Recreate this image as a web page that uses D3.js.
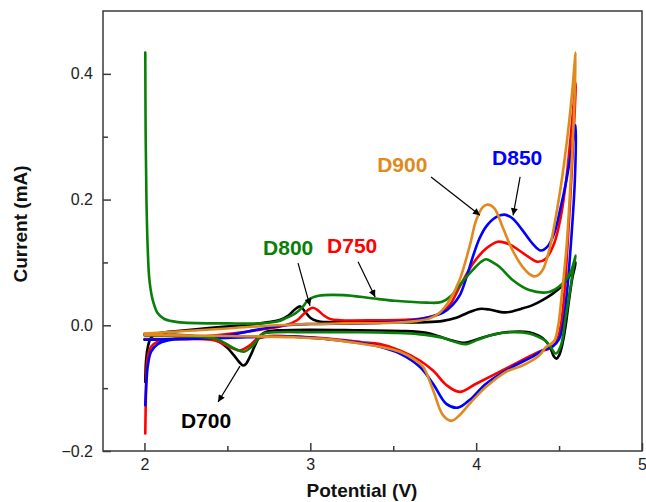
<!DOCTYPE html>
<html>
<head>
<meta charset="utf-8">
<script src="https://cdn.jsdelivr.net/npm/d3@7/dist/d3.min.js"></script>
<style>
  html, body { margin: 0; padding: 0; background: #fff; }
  svg { display: block; font-family: "Liberation Sans", Arial, Helvetica, sans-serif; }
</style>
</head>
<body>
<svg id="chart" width="646" height="502"></svg>
<script>
// Cyclic voltammograms: [potential (V), current (mA)], anodic sweep 2.0 -> 4.6 V then cathodic back to 2.0 V
const d700 = [
  [2.005,-0.09],[2.01,-0.055],[2.02,-0.035],[2.035,-0.022],[2.06,-0.015],[2.1,-0.012],[2.2,-0.009],[2.44,-0.003],
  [2.6,0.0],[2.75,0.005],[2.82,0.009],[2.87,0.016],[2.91,0.026],[2.94,0.03],[2.97,0.021],[3.0,0.012],[3.04,0.007],
  [3.1,0.005],[3.4,0.005],[3.7,0.005],[3.8,0.007],[3.88,0.012],[3.95,0.02],[4.02,0.026],[4.08,0.025],[4.15,0.021],
  [4.2,0.021],[4.27,0.026],[4.34,0.032],[4.4,0.04],[4.46,0.05],[4.52,0.063],[4.56,0.077],[4.6,0.1],
  [4.58,0.075],[4.56,0.04],[4.54,0.0],[4.52,-0.03],[4.5,-0.048],[4.485,-0.053],[4.47,-0.05],[4.45,-0.038],
  [4.42,-0.025],[4.38,-0.017],[4.32,-0.011],[4.18,-0.011],[4.1,-0.015],[4.02,-0.021],[3.93,-0.028],[3.85,-0.024],
  [3.78,-0.018],[3.7,-0.012],[3.55,-0.009],[3.3,-0.008],[3.0,-0.007],[2.8,-0.008],[2.74,-0.01],[2.7,-0.016],
  [2.67,-0.03],[2.64,-0.048],[2.61,-0.062],[2.595,-0.064],[2.57,-0.058],[2.54,-0.048],[2.5,-0.036],[2.45,-0.026],
  [2.4,-0.021],[2.3,-0.017],[2.15,-0.015],[2.0,-0.014]
];
const d750 = [
  [2.005,-0.172],[2.008,-0.12],[2.012,-0.075],[2.02,-0.05],[2.04,-0.034],[2.08,-0.026],[2.15,-0.022],[2.3,-0.019],
  [2.5,-0.014],[2.7,-0.007],[2.85,0.0],[2.92,0.008],[2.96,0.018],[2.99,0.025],[3.015,0.028],[3.04,0.025],
  [3.08,0.016],[3.12,0.01],[3.18,0.008],[3.4,0.008],[3.6,0.009],[3.7,0.012],[3.78,0.019],[3.84,0.032],
  [3.9,0.061],[3.98,0.098],[4.06,0.122],[4.13,0.133],[4.2,0.129],[4.26,0.119],[4.32,0.108],[4.37,0.101],
  [4.42,0.106],[4.47,0.13],[4.51,0.172],[4.54,0.225],[4.57,0.3],[4.6,0.385],
  [4.585,0.29],[4.565,0.19],[4.545,0.1],[4.525,0.03],[4.505,-0.008],[4.48,-0.028],[4.44,-0.037],[4.38,-0.042],
  [4.26,-0.058],[4.12,-0.077],[4.0,-0.093],[3.9,-0.106],[3.82,-0.095],[3.74,-0.072],[3.66,-0.056],[3.54,-0.04],
  [3.42,-0.03],[3.31,-0.027],[3.11,-0.021],[2.91,-0.018],[2.75,-0.017],[2.7,-0.02],[2.676,-0.022],[2.635,-0.032],
  [2.575,-0.04],[2.535,-0.037],[2.455,-0.027],[2.4,-0.023],[2.2,-0.022],[2.0,-0.022]
];
const d850 = [
  [2.005,-0.127],[2.012,-0.09],[2.02,-0.065],[2.04,-0.042],[2.08,-0.03],[2.14,-0.024],[2.3,-0.021],[2.5,-0.016],
  [2.7,-0.006],[2.85,0.0],[3.0,0.002],[3.3,0.003],[3.5,0.005],[3.62,0.008],[3.72,0.013],[3.8,0.02],[3.86,0.033],
  [3.9,0.047],[3.94,0.075],[3.98,0.109],[4.02,0.138],[4.06,0.157],[4.12,0.172],[4.17,0.176],[4.22,0.17],
  [4.28,0.151],[4.34,0.13],[4.39,0.119],[4.43,0.125],[4.47,0.146],[4.51,0.188],[4.54,0.225],[4.57,0.27],[4.6,0.318],
  [4.595,0.23],[4.57,0.125],[4.545,0.045],[4.525,0.003],[4.5,-0.022],[4.46,-0.034],[4.4,-0.04],[4.34,-0.05],
  [4.22,-0.066],[4.06,-0.093],[3.96,-0.119],[3.89,-0.131],[3.82,-0.125],[3.74,-0.093],[3.66,-0.066],[3.54,-0.045],
  [3.42,-0.034],[3.3,-0.028],[3.1,-0.022],[2.9,-0.018],[2.5,-0.02],[2.2,-0.022],[2.0,-0.023]
];
const d800 = [
  [2.005,0.434],[2.007,0.31],[2.012,0.2],[2.02,0.12],[2.03,0.072],[2.05,0.04],[2.08,0.019],[2.12,0.01],
  [2.2,0.005],[2.5,0.003],[2.7,0.003],[2.8,0.006],[2.85,0.011],[2.91,0.019],[2.95,0.028],[2.99,0.041],
  [3.05,0.047],[3.2,0.048],[3.37,0.043],[3.51,0.039],[3.7,0.036],[3.79,0.037],[3.85,0.047],[3.9,0.064],
  [3.98,0.088],[4.03,0.101],[4.06,0.105],[4.1,0.1],[4.14,0.093],[4.22,0.072],[4.32,0.056],[4.44,0.053],
  [4.52,0.066],[4.57,0.085],[4.6,0.111],
  [4.585,0.09],[4.57,0.062],[4.54,0.013],[4.51,-0.033],[4.48,-0.045],[4.45,-0.035],[4.42,-0.025],[4.38,-0.019],
  [4.32,-0.013],[4.2,-0.011],[4.1,-0.015],[4.0,-0.024],[3.94,-0.03],[3.88,-0.027],[3.8,-0.02],[3.65,-0.014],
  [3.5,-0.012],[3.3,-0.011],[3.0,-0.011],[2.8,-0.011],[2.72,-0.013],[2.7,-0.016],[2.655,-0.032],[2.6,-0.042],
  [2.55,-0.038],[2.455,-0.024],[2.4,-0.02],[2.2,-0.017],[2.0,-0.016]
];
const d900 = [
  [2.0,-0.013],[2.2,-0.01],[2.5,-0.005],[2.8,0.0],[3.0,0.002],[3.2,0.003],[3.5,0.004],[3.65,0.007],[3.72,0.011],
  [3.78,0.02],[3.84,0.04],[3.9,0.072],[3.96,0.125],[4.0,0.167],[4.04,0.188],[4.07,0.192],[4.11,0.186],
  [4.16,0.156],[4.22,0.119],[4.28,0.093],[4.33,0.08],[4.36,0.078],[4.4,0.0875],[4.44,0.119],[4.48,0.172],
  [4.51,0.22],[4.53,0.257],[4.555,0.31],[4.58,0.374],[4.6,0.434],
  [4.59,0.337],[4.57,0.231],[4.545,0.125],[4.515,0.045],[4.495,0.0],[4.47,-0.025],[4.42,-0.035],[4.38,-0.048],
  [4.28,-0.064],[4.18,-0.074],[4.06,-0.098],[3.96,-0.125],[3.9,-0.143],[3.85,-0.152],[3.8,-0.143],[3.74,-0.103],
  [3.68,-0.066],[3.62,-0.053],[3.54,-0.042],[3.42,-0.034],[3.3,-0.029],[3.1,-0.022],[2.9,-0.019],[2.5,-0.017],
  [2.2,-0.016],[2.0,-0.015]
];

const seriesNames  = ["D700", "D750", "D850", "D800", "D900"];
const seriesColors = ["#000000", "#ff0000", "#0000ff", "#088008", "#e08a1e"];
const seriesData   = [d700, d750, d850, d800, d900];

const xMajorTicks = [2, 3, 4, 5];
const xMinorTicks = [2.5, 3.5, 4.5];
const yMajorTicks = [-0.2, 0.0, 0.2, 0.4];
const yMinorTicks = [-0.1, 0.1, 0.3];

// Labels with arrows, in data units: label anchor, arrow tail, arrow head
const labelNames  = ["D700", "D800", "D750", "D900", "D850"];
const labelAt     = [[2.22,-0.163],[2.715,0.112],[3.101,0.115],[3.403,0.244],[4.096,0.255]];
const arrowFrom   = [[2.576,-0.065],[2.926,0.099],[3.288,0.101],[3.728,0.236],[4.265,0.236]];
const arrowTo     = [[2.444,-0.122],[2.998,0.031],[3.391,0.045],[4.023,0.175],[4.223,0.175]];
const labelColors = ["#000000", "#088008", "#ff0000", "#e08a1e", "#0000ff"];

const svg = d3.select("#chart");
const plotLeft = 103, plotRight = 642, plotTop = 11, plotBottom = 451;

const x = d3.scaleLinear().domain([1.75, 5]).range([plotLeft, plotRight]);
const y = d3.scaleLinear().domain([-0.2, 0.5]).range([plotBottom, plotTop]);

// curves
const line = d3.line()
  .x(d => x(d[0]))
  .y(d => y(d[1]))
  .curve(d3.curveCatmullRom.alpha(0.5));

const plot = svg.append("g");
seriesData.forEach((data, i) => {
  plot.append("path")
    .datum(data)
    .attr("fill", "none")
    .attr("stroke", seriesColors[i])
    .attr("stroke-width", 2.6)
    .attr("stroke-linejoin", "round")
    .attr("stroke-linecap", "round")
    .attr("d", line);
});

// frame
svg.append("rect")
  .attr("x", plotLeft).attr("y", plotTop)
  .attr("width", plotRight - plotLeft).attr("height", plotBottom - plotTop)
  .attr("fill", "none").attr("stroke", "#3a3a3a").attr("stroke-width", 1.5);

const tickFont = g => g.selectAll("text")
  .attr("font-size", 16).attr("fill", "#222")
  .attr("font-family", "'Liberation Sans', Arial, sans-serif");

// x axis, ticks pointing inward
const xAxis = svg.append("g").attr("transform", `translate(0,${plotBottom})`)
  .call(d3.axisBottom(x).tickValues(xMajorTicks).tickFormat(d3.format("d")).tickSize(-8).tickPadding(8));
xAxis.call(tickFont);
svg.append("g").attr("transform", `translate(0,${plotBottom})`)
  .call(d3.axisBottom(x).tickValues(xMinorTicks).tickFormat("").tickSize(-5));

// y axis
const yAxis = svg.append("g").attr("transform", `translate(${plotLeft},0)`)
  .call(d3.axisLeft(y).tickValues(yMajorTicks).tickFormat(d3.format(".1f")).tickSize(-8).tickPadding(10));
yAxis.call(tickFont);
svg.append("g").attr("transform", `translate(${plotLeft},0)`)
  .call(d3.axisLeft(y).tickValues(yMinorTicks).tickFormat("").tickSize(-5));

svg.selectAll(".domain").remove();
svg.selectAll(".tick line").attr("stroke", "#3a3a3a").attr("stroke-width", 1.5);

// axis titles
svg.append("text")
  .attr("x", 362).attr("y", 497)
  .attr("text-anchor", "middle").attr("font-size", 19).attr("font-weight", "bold")
  .attr("fill", "#111").text("Potential (V)");
svg.append("text")
  .attr("transform", "translate(27,224) rotate(-90)")
  .attr("text-anchor", "middle").attr("font-size", 19).attr("font-weight", "bold")
  .attr("fill", "#111").text("Current (mA)");

// arrow marker
svg.append("defs").append("marker")
  .attr("id", "arrowhead")
  .attr("viewBox", "0 0 10 10").attr("refX", 10).attr("refY", 5)
  .attr("markerWidth", 10).attr("markerHeight", 7)
  .attr("markerUnits", "userSpaceOnUse")
  .attr("orient", "auto")
  .append("path").attr("d", "M0,0 L10,5 L0,10 Z").attr("fill", "#000");

const notes = svg.append("g");
labelNames.forEach((name, i) => {
  notes.append("line")
    .attr("x1", x(arrowFrom[i][0])).attr("y1", y(arrowFrom[i][1]))
    .attr("x2", x(arrowTo[i][0])).attr("y2", y(arrowTo[i][1]))
    .attr("stroke", "#000").attr("stroke-width", 1.2)
    .attr("marker-end", "url(#arrowhead)");
  notes.append("text")
    .attr("x", x(labelAt[i][0])).attr("y", y(labelAt[i][1]))
    .attr("font-size", 21).attr("font-weight", "bold")
    .attr("fill", labelColors[i]).text(name);
});
</script>
</body>
</html>
